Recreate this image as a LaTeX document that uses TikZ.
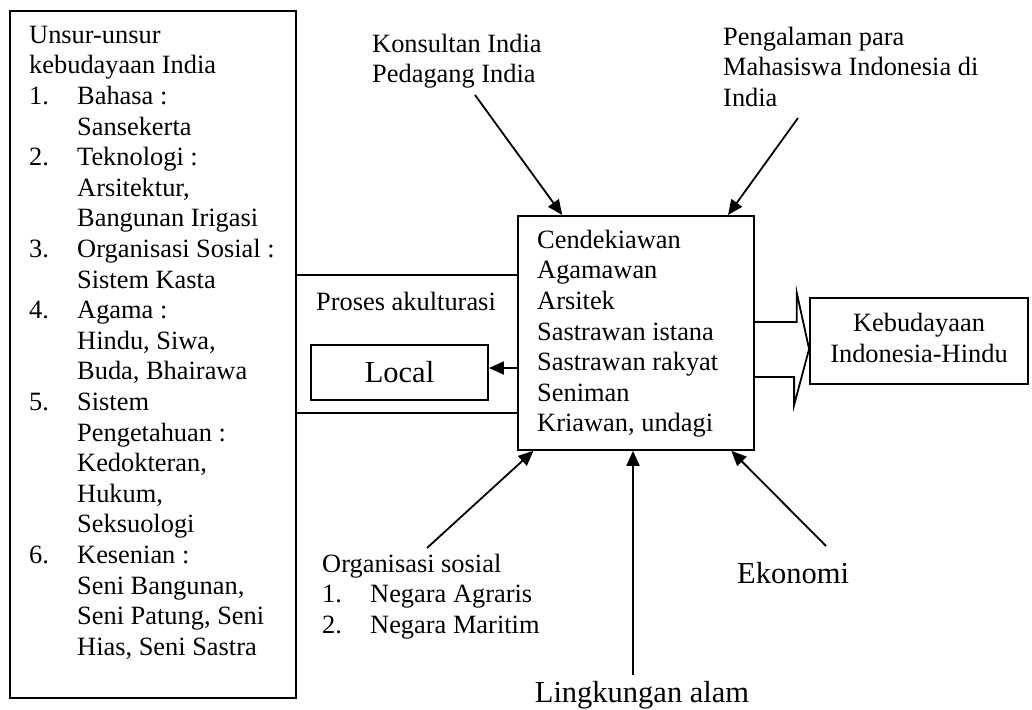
\documentclass[tikz,border=0pt]{standalone}
\usepackage{fontspec}
\setmainfont{Liberation Serif}
\usetikzlibrary{arrows.meta}
\newcommand{\nomor}[1]{\makebox[48pt][l]{#1}}
\newcommand{\lanjut}{\hspace*{48pt}}

\begin{document}
\begin{tikzpicture}[x=1pt,y=-1pt,
    box/.style={draw,line width=1.8pt,inner sep=0pt},
    txt/.style={font=\fontsize{26.4}{30.6}\selectfont,align=left,
                anchor=north west,inner sep=0pt},
    big/.style={font=\fontsize{30.5}{35}\selectfont,inner sep=0pt},
    ln/.style={line width=1.8pt,line join=miter},
    arr/.style={-{Triangle[length=15pt,width=13pt]},line width=1.8pt}]

    \useasboundingbox (0,0) rectangle (1032,709);

    \node[box,minimum width=286pt,minimum height=687pt,anchor=north west] (unsur) at (9,10) {};
    \node[txt] (unsurisi) at (29,21.6) {\strut Unsur-unsur\\
      kebudayaan India\\
      \nomor{1.}Bahasa :\\ \lanjut Sansekerta\\
      \nomor{2.}Teknologi :\\ \lanjut Arsitektur,\\ \lanjut Bangunan Irigasi\\
      \nomor{3.}Organisasi Sosial :\\ \lanjut Sistem Kasta\\
      \nomor{4.}Agama :\\ \lanjut Hindu, Siwa,\\ \lanjut Buda, Bhairawa\\
      \nomor{5.}Sistem\\ \lanjut Pengetahuan :\\ \lanjut Kedokteran,\\ \lanjut Hukum,\\ \lanjut Seksuologi\\
      \nomor{6.}Kesenian :\\ \lanjut Seni Bangunan,\\ \lanjut Seni Patung, Seni\\ \lanjut Hias, Seni Sastra};

    \node[box,minimum width=236pt,minimum height=234pt,anchor=north west] (tokoh) at (517,215) {};
    \node[txt] (tokohisi) at (537,226.6) {\strut Cendekiawan\\ Agamawan\\ Arsitek\\
      Sastrawan istana\\ Sastrawan rakyat\\ Seniman\\ Kriawan, undagi};

    \node[box,big,minimum width=177pt,minimum height=55pt] (local) at (399.5,372.5) {Local};
    \node[box,txt,anchor=center,align=center,minimum width=218pt,minimum height=86pt]
      (hasil) at (919,341) {\strut Kebudayaan\\ \strut Indonesia-Hindu};

    \node[txt] (proses) at (316,288.6) {\strut Proses akulturasi};
    \node[txt] (konsultan) at (372,30.6) {\strut Konsultan India\\ Pedagang India};
    \node[txt] (pengalaman) at (723,23.6) {\strut Pengalaman para\\ Mahasiswa Indonesia di\\ India};
    \node[txt] (organisasi) at (322,550.6) {\strut Organisasi sosial\\
      \nomor{1.}Negara Agraris\\ \nomor{2.}Negara Maritim};
    \node[big,anchor=base west] (ekonomi) at (737,583) {Ekonomi};
    \node[big,anchor=base] (alam) at (642,702) {Lingkungan alam};

    \coordinate (ga) at (0,275);
    \coordinate (gb) at (0,413);
    \coordinate (lk) at (0,368);
    \draw[ln] (unsur.east |- ga) -- (tokoh.west |- ga);
    \draw[ln] (unsur.east |- gb) -- (tokoh.west |- gb);
    \draw[arr] (tokoh.west |- lk) -- (local.east |- lk);

    \coordinate (ka) at (475,95);
    \coordinate (pa) at (798,118);
    \coordinate (oa) at (427,548);
    \coordinate (ea) at (826,546);
    \coordinate (la) at (633,675);
    \draw[arr] (ka) -- (tokoh.122);
    \draw[arr] (pa) -- (tokoh.52);
    \draw[arr] (oa) -- (tokoh.229);
    \draw[arr] (ea) -- (tokoh.309);
    \draw[arr] (la) -- (la |- tokoh.south);

    \coordinate (ba) at (0,322);
    \coordinate (bb) at (0,377);
    \coordinate (bt) at (0,349);
    \draw[ln] (tokoh.east |- ba) -- ++(42,0) -- ++(0,-29) -- (hasil.west |- bt)
      -- ++(-15,56) -- ++(0,-28) -- (tokoh.east |- bb);
\end{tikzpicture}
\end{document}
